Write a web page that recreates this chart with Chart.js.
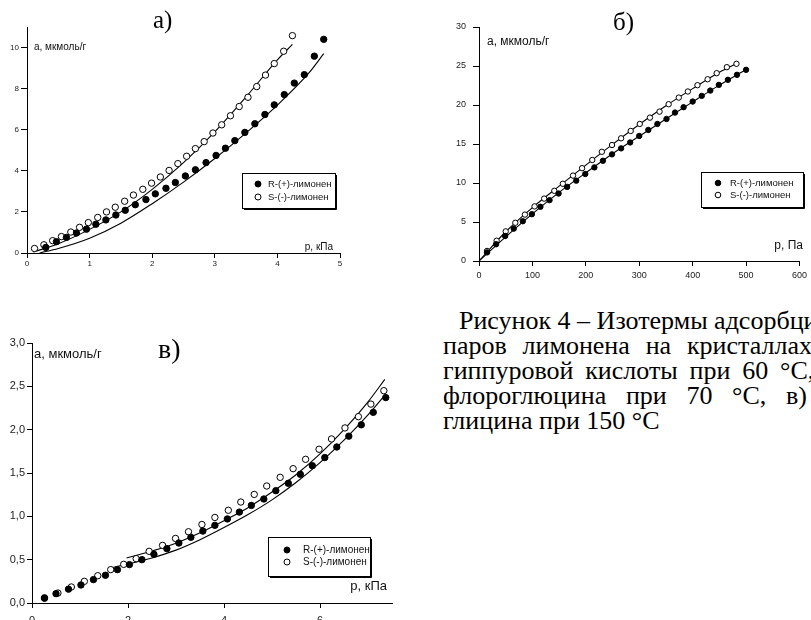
<!DOCTYPE html>
<html>
<head>
<meta charset="utf-8">
<script src="https://cdn.jsdelivr.net/npm/chart.js@4"></script>
<style>
    body { margin: 0; width: 811px; height: 620px; overflow: hidden; background: #fff; position: relative; }
    canvas { position: absolute; }
    .ttl { position: absolute; font-family: "Liberation Serif", serif; line-height: 1; color: #000; }
    .cap { position: absolute; font-family: "Liberation Serif", serif; font-size: 26px; line-height: 25px; color: #000; }
    .just { text-align: justify; text-align-last: justify; }
</style>
</head>
<body>
<canvas id="chartA" width="350" height="275" style="left:0;top:0"></canvas>
<canvas id="chartB" width="411" height="290" style="left:400px;top:0"></canvas>
<canvas id="chartC" width="410" height="320" style="left:0;top:300px"></canvas>

<div class="ttl" style="left:153px;top:7px;font-size:25px">а)</div>
<div class="ttl" style="left:613px;top:9px;font-size:25px">б)</div>
<div class="ttl" style="left:158px;top:335px;font-size:28px">в)</div>

<div class="cap" style="left:459px;top:308px;white-space:nowrap">Рисунок 4 – Изотермы адсорбции</div>
<div class="cap just" style="left:443px;top:333px;width:405px">паров лимонена на кристаллах а)</div>
<div class="cap just" style="left:443px;top:358px;width:405px">гиппуровой кислоты при 60 °С, б)</div>
<div class="cap just" style="left:443px;top:383px;width:364px">флороглюцина при 70 °С, в)</div>
<div class="cap" style="left:443px;top:408px;white-space:nowrap">глицина при 150 °С</div>

<script>
// а) гиппуровая кислота, 60 °С  (p, кПа ; a, мкмоль/г)
var aRx = [0.30, 0.47, 0.63, 0.79, 0.95, 1.10, 1.26, 1.42, 1.57, 1.73, 1.90, 2.05, 2.22, 2.37, 2.53, 2.69, 2.86, 3.02, 3.17, 3.32, 3.48, 3.64, 3.80, 3.95, 4.11, 4.27, 4.43, 4.59, 4.74];
var aRy = [0.27, 0.55, 0.76, 0.97, 1.16, 1.40, 1.61, 1.85, 2.08, 2.35, 2.60, 2.88, 3.15, 3.43, 3.75, 4.05, 4.40, 4.75, 5.10, 5.47, 5.87, 6.29, 6.74, 7.21, 7.71, 8.27, 8.68, 9.58, 10.40];
var aSx = [0.12, 0.27, 0.41, 0.55, 0.70, 0.84, 0.98, 1.13, 1.27, 1.41, 1.56, 1.70, 1.85, 1.99, 2.13, 2.27, 2.41, 2.55, 2.69, 2.83, 2.97, 3.11, 3.25, 3.39, 3.53, 3.67, 3.81, 3.95, 4.10, 4.24];
var aSy = [0.22, 0.40, 0.60, 0.80, 1.02, 1.25, 1.48, 1.73, 2.00, 2.23, 2.52, 2.82, 3.10, 3.40, 3.70, 4.02, 4.35, 4.71, 5.08, 5.42, 5.84, 6.24, 6.68, 7.13, 7.58, 8.10, 8.66, 9.22, 9.82, 10.58];
var aRfitX = [0.2, 0.5, 1.0, 1.5, 2.0, 2.5, 3.0, 3.5, 4.0, 4.5, 4.74];
var aRfitY = [0.0, 0.22, 0.72, 1.45, 2.4, 3.45, 4.6, 5.85, 7.2, 8.75, 9.7];
var aSfitX = [0.1, 0.5, 1.0, 1.5, 2.0, 2.5, 3.0, 3.5, 4.0, 4.24];
var aSfitY = [0.05, 0.45, 1.15, 2.0, 3.1, 4.4, 5.9, 7.6, 9.4, 10.15];
var aXTicks = [0, 1, 2, 3, 4, 5];
var aYTicks = [0, 2, 4, 6, 8, 10];

// б) флороглюцин, 70 °С  (p, Па)
var bRx = [15, 32, 49, 65, 82, 99, 115, 132, 149, 165, 182, 199, 216, 232, 249, 266, 283, 300, 317, 334, 351, 367, 383, 400, 417, 433, 449, 466, 483, 500];
var bRy = [1.1, 2.15, 3.2, 4.15, 5.1, 6.0, 6.95, 7.8, 8.65, 9.5, 10.3, 11.15, 12.0, 12.85, 13.67, 14.44, 15.2, 16.03, 16.8, 17.57, 18.21, 19.03, 19.72, 20.44, 21.17, 21.85, 22.58, 23.23, 23.87, 24.51];
var bSx = [15, 33, 50, 68, 86, 104, 122, 141, 157, 176, 193, 212, 230, 249, 266, 284, 301, 320, 338, 355, 374, 391, 409, 428, 445, 464, 482];
var bSy = [1.29, 2.6, 3.8, 4.9, 5.95, 7.0, 8.0, 9.0, 9.9, 10.95, 11.9, 12.95, 14.0, 14.87, 15.73, 16.67, 17.57, 18.38, 19.15, 20.1, 20.95, 21.73, 22.54, 23.3, 24.08, 24.85, 25.28];
var bRfitX = [0, 50, 100, 150, 200, 250, 300, 350, 400, 450, 500];
var bRfitY = [0, 3.1, 6.05, 8.8, 11.3, 13.75, 16.0, 18.2, 20.4, 22.55, 24.55];
var bSfitX = [0, 50, 100, 150, 200, 250, 300, 350, 400, 450, 483];
var bSfitY = [0, 3.75, 6.85, 9.6, 12.3, 14.95, 17.5, 19.9, 22.1, 24.2, 25.35];
var bXTicks = [0, 100, 200, 300, 400, 500, 600];
var bYTicks = [0, 5, 10, 15, 20, 25, 30];

// в) глицин, 150 °С  (p, кПа)
var cRx = [0.26, 0.50, 0.76, 1.02, 1.28, 1.53, 1.78, 2.03, 2.29, 2.54, 2.81, 3.06, 3.31, 3.56, 3.81, 4.07, 4.32, 4.57, 4.83, 5.08, 5.34, 5.59, 5.84, 6.10, 6.35, 6.60, 6.86, 7.11, 7.37];
var cRy = [0.055, 0.108, 0.160, 0.208, 0.27, 0.32, 0.385, 0.443, 0.50, 0.562, 0.627, 0.692, 0.758, 0.83, 0.896, 0.97, 1.049, 1.126, 1.20, 1.296, 1.381, 1.485, 1.585, 1.678, 1.80, 1.925, 2.056, 2.20, 2.37];
var cSx = [0.26, 0.54, 0.82, 1.09, 1.37, 1.64, 1.91, 2.17, 2.44, 2.72, 2.99, 3.26, 3.54, 3.81, 4.09, 4.35, 4.63, 4.89, 5.17, 5.44, 5.70, 5.98, 6.24, 6.52, 6.80, 7.06, 7.33];
var cSy = [0.06, 0.115, 0.185, 0.25, 0.315, 0.385, 0.446, 0.512, 0.596, 0.665, 0.745, 0.822, 0.906, 0.987, 1.07, 1.165, 1.253, 1.35, 1.45, 1.55, 1.658, 1.774, 1.893, 2.02, 2.15, 2.295, 2.45];
var cRfitX = [1.68, 2.0, 2.5, 3.0, 3.5, 4.0, 4.5, 5.0, 5.5, 6.0, 6.5, 7.0, 7.37];
var cRfitY = [0.41, 0.45, 0.52, 0.61, 0.73, 0.87, 1.02, 1.19, 1.39, 1.62, 1.88, 2.17, 2.41];
var cSfitX = [1.97, 2.5, 3.0, 3.5, 4.0, 4.5, 5.0, 5.5, 6.0, 6.5, 7.0, 7.35];
var cSfitY = [0.52, 0.60, 0.69, 0.81, 0.95, 1.10, 1.28, 1.48, 1.72, 2.00, 2.32, 2.58];
var cXTicks = [0, 2, 4, 6];
var cYTicks = [0, 0.5, 1.0, 1.5, 2.0, 2.5, 3.0];

var legendR = 'R-(+)-лимонен';
var legendS = 'S-(-)-лимонен';

function pts(xs, ys) {
    return xs.map(function(x, i) { return { x: x, y: ys[i] }; });
}

// axis captions + boxed legend, drawn inside the canvas
var notesPlugin = {
    id: 'notes',
    afterDraw: function(chart, args, o) {
        var c = chart.ctx;
        c.save();
        c.fillStyle = '#111';
        c.textBaseline = 'middle';
        c.font = o.labelFont + 'px "Liberation Sans", Arial';
        c.textAlign = 'left';
        c.fillText(o.yLabel, o.yLabelX, o.yLabelY);
        c.textAlign = 'right';
        c.fillText(o.xLabel, o.xLabelX, o.xLabelY);

        var L = o.legend;
        c.fillStyle = '#fff';
        c.fillRect(L.x, L.y, L.w, L.h);
        c.strokeStyle = '#000';
        c.lineWidth = 1;
        c.strokeRect(L.x + 0.5, L.y + 0.5, L.w, L.h);
        c.beginPath(); // little shadow on right/bottom
        c.moveTo(L.x + L.w + 1.5, L.y + 2);
        c.lineTo(L.x + L.w + 1.5, L.y + L.h + 1.5);
        c.lineTo(L.x + 2, L.y + L.h + 1.5);
        c.stroke();

        c.font = L.font + 'px "Liberation Sans", Arial';
        c.textAlign = 'left';
        chart.data.datasets.slice(0, 2).forEach(function(ds, i) {
            var y = L.row + i * L.gap;
            c.beginPath();
            c.arc(L.mx, y, L.mr, 0, Math.PI * 2);
            c.fillStyle = ds.backgroundColor;
            c.fill();
            c.strokeStyle = '#000';
            c.stroke();
            c.fillStyle = '#111';
            c.fillText(ds.label, L.tx, y);
        });
        c.restore();
    }
};

function makeChart(id, o) {
    var ctx = document.getElementById(id).getContext('2d');
    var axis = function(ticksArr, size, tickFont, pad, tickLen, fmt, min, max, isX) {
        return {
            type: 'linear',
            min: min,
            max: max,
            afterBuildTicks: function(s) { s.ticks = ticksArr.map(function(v) { return { value: v }; }); },
            afterFit: function(s) { if (isX) { s.height = size; } else { s.width = size; } },
            grid: { drawOnChartArea: false, drawTicks: true, tickLength: tickLen, color: '#000', lineWidth: 1 },
            border: { display: true, color: '#000', width: 1 },
            ticks: {
                color: '#222',
                padding: pad,
                maxRotation: 0,
                autoSkip: false,
                font: { family: '"Liberation Sans", Arial', size: tickFont },
                callback: fmt
            }
        };
    };
    return new Chart(ctx, {
        type: 'scatter',
        data: {
            datasets: [
                {
                    label: legendR,
                    data: pts(o.rx, o.ry),
                    pointRadius: o.r,
                    backgroundColor: '#000',
                    borderColor: '#000',
                    borderWidth: 1,
                    showLine: false
                },
                {
                    label: legendS,
                    data: pts(o.sx, o.sy),
                    pointRadius: o.r,
                    backgroundColor: '#fff',
                    borderColor: '#000',
                    borderWidth: 1,
                    showLine: false
                },
                {
                    label: 'fitR',
                    data: pts(o.rfx, o.rfy),
                    showLine: true,
                    pointRadius: 0,
                    borderColor: '#000',
                    borderWidth: 1.1,
                    cubicInterpolationMode: 'monotone'
                },
                {
                    label: 'fitS',
                    data: pts(o.sfx, o.sfy),
                    showLine: true,
                    pointRadius: 0,
                    borderColor: '#000',
                    borderWidth: 1.1,
                    cubicInterpolationMode: 'monotone'
                }
            ]
        },
        options: {
            responsive: false,
            animation: false,
            events: [],
            layout: { padding: o.pad },
            plugins: {
                legend: { display: false },
                tooltip: { enabled: false },
                notes: o.notes
            },
            scales: {
                x: axis(o.xTicks, o.xH, o.tickFont, o.xPad, 5, o.xFmt, o.xMin, o.xMax, true),
                y: axis(o.yTicks, o.yW, o.tickFont, o.yPad, o.yTickLen, o.yFmt, o.yMin, o.yMax, false)
            }
        },
        plugins: [notesPlugin]
    });
}

var plain = function(v) { return String(v); };
var comma = function(v) { return v.toFixed(1).replace('.', ','); };

window.onload = function() {
    makeChart('chartA', {
        rx: aRx, ry: aRy, sx: aSx, sy: aSy,
        rfx: aRfitX, rfy: aRfitY, sfx: aSfitX, sfy: aSfitY,
        xTicks: aXTicks, yTicks: aYTicks,
        xMin: 0, xMax: 5, yMin: 0, yMax: 11,
        r: 3.2, tickFont: 8, xFmt: plain, yFmt: plain,
        pad: { top: 27, right: 10, left: 0, bottom: 0 },
        yW: 27, xH: 22, xPad: 1, yPad: 2, yTickLen: 6,
        notes: {
            yLabel: 'а, мкмоль/г', yLabelX: 34, yLabelY: 47,
            xLabel: 'р, кПа', xLabelX: 333, xLabelY: 247, labelFont: 10,
            legend: { x: 242, y: 173, w: 93, h: 35, mx: 258, mr: 3, row: 184, gap: 13, tx: 268, font: 9.5 }
        }
    });

    makeChart('chartB', {
        rx: bRx, ry: bRy, sx: bSx, sy: bSy,
        rfx: bRfitX, rfy: bRfitY, sfx: bSfitX, sfy: bSfitY,
        xTicks: bXTicks, yTicks: bYTicks,
        xMin: 0, xMax: 600, yMin: 0, yMax: 30,
        r: 2.7, tickFont: 9, xFmt: plain, yFmt: plain,
        pad: { top: 27, right: 8, left: 0, bottom: 0 },
        yW: 79, xH: 29, xPad: 4, yPad: 7, yTickLen: 6,
        notes: {
            yLabel: 'а, мкмоль/г', yLabelX: 87, yLabelY: 42,
            xLabel: 'р, Па', xLabelX: 403, xLabelY: 246, labelFont: 12,
            legend: { x: 301, y: 172, w: 102, h: 35, mx: 318, mr: 2.8, row: 183, gap: 12, tx: 330, font: 9.5 }
        }
    });

    makeChart('chartC', {
        rx: cRx, ry: cRy, sx: cSx, sy: cSy,
        rfx: cRfitX, rfy: cRfitY, sfx: cSfitX, sfy: cSfitY,
        xTicks: cXTicks, yTicks: cYTicks,
        xMin: 0, xMax: 7.5, yMin: 0, yMax: 3,
        r: 3.2, tickFont: 11, xFmt: plain, yFmt: comma,
        pad: { top: 43, right: 18, left: 0, bottom: 0 },
        yW: 32, xH: 17, xPad: 6, yPad: 2, yTickLen: 5,
        notes: {
            yLabel: 'а, мкмоль/г', yLabelX: 34, yLabelY: 54,
            xLabel: 'р, кПа', xLabelX: 387, xLabelY: 286, labelFont: 13,
            legend: { x: 268, y: 237, w: 102, h: 39, mx: 287, mr: 3, row: 250, gap: 12, tx: 303, font: 10 }
        }
    });
};
</script>
</body>
</html>
